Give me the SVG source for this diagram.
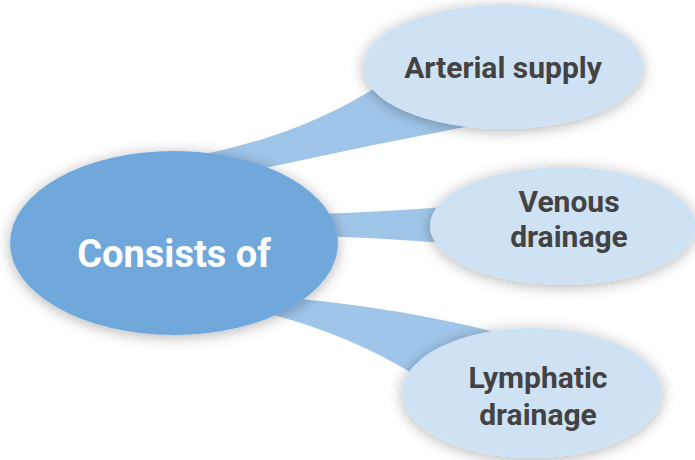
<svg xmlns="http://www.w3.org/2000/svg" width="695" height="460" viewBox="0 0 695 460">
  <defs>
    <filter id="sh" x="-20%" y="-20%" width="140%" height="140%">
      <feDropShadow dx="0" dy="2" stdDeviation="7" flood-color="#000" flood-opacity="0.3"/>
    </filter>
    <style>
      .conn { fill: #9FC5E8; }
      .main { fill: #6FA8DC; filter: url(#sh); }
      .leaf { fill: #CFE2F3; filter: url(#sh); }
      .t { font-family: Roboto, "Liberation Sans", sans-serif; font-weight: bold; text-anchor: middle; }
      .tm { fill: #FFFFFF; font-size: 38px; }
      .tl { fill: #434343; font-size: 30px; }
    </style>
  </defs>
  <rect width="695" height="460" fill="#FFFFFF"/>
  <g id="connectors">
    <path class="conn" d="M 200,155 Q 300,135 375,88 L 475,125 Q 370,145 265,168 Z"/>
    <path class="conn" d="M 320,214 Q 380,212 445,207 L 445,243 Q 380,238 320,236 Z"/>
    <path class="conn" d="M 290,298 Q 400,308 495,332 L 415,375 Q 350,335 270,314 Z"/>
  </g>
  <g id="node-main">
    <ellipse class="main" cx="174" cy="243" rx="164" ry="92"/>
    <text class="t tm" x="174" y="267">Consists of</text>
  </g>
  <g id="node-arterial">
    <ellipse class="leaf" cx="503" cy="67" rx="140" ry="62"/>
    <text class="t tl" x="503" y="78">Arterial supply</text>
  </g>
  <g id="node-venous">
    <ellipse class="leaf" cx="563" cy="226" rx="133" ry="59"/>
    <text class="t tl" x="569" y="212">Venous</text>
    <text class="t tl" x="569" y="247">drainage</text>
  </g>
  <g id="node-lymphatic">
    <ellipse class="leaf" cx="532" cy="393" rx="130" ry="65"/>
    <text class="t tl" x="538" y="388">Lymphatic</text>
    <text class="t tl" x="538" y="425">drainage</text>
  </g>
</svg>
